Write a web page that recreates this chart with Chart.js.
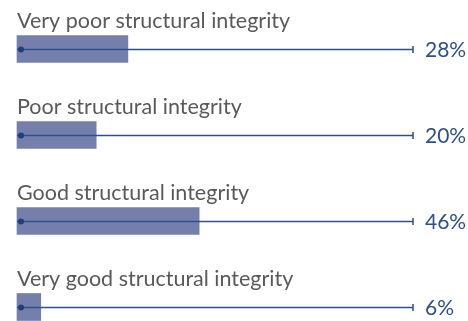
<!DOCTYPE html>
<html>
<head>
<meta charset="utf-8">
<script src="https://cdn.jsdelivr.net/npm/chart.js@4/dist/chart.umd.min.js"></script>
<style>
	html, body { margin: 0; padding: 0; background: #fff; }
	canvas { display: block; }
</style>
</head>
<body>
<canvas id="myChart" width="468" height="321"></canvas>
<script>
const categories = [
	"Very poor structural integrity",
	"Poor structural integrity",
	"Good structural integrity",
	"Very good structural integrity"
];
const shares = [28, 20, 46, 6];
const scaleMin = 0;
const scaleMax = 100;

const labelFont = '21.5px Lato, "DejaVu Sans", sans-serif';
const valueFont = '21px Lato, "DejaVu Sans", sans-serif';

// category label above each bar, track line with dot and end tick, value on the right
const rowDecor = {
	id: 'rowDecor',
	afterDatasetsDraw(chart) {
		const ctx = chart.ctx;
		const x = chart.scales.x;
		const meta = chart.getDatasetMeta(0);
		const x0 = x.getPixelForValue(scaleMin);
		const x1 = x.getPixelForValue(scaleMax);
		ctx.save();
		meta.data.forEach((bar, i) => {
			const top = bar.y - bar.height / 2;
			const ly = Math.round(bar.y) + 0.5;

			ctx.strokeStyle = '#2d4f8c';
			ctx.lineWidth = 1.5;
			ctx.beginPath();
			ctx.moveTo(x0, ly);
			ctx.lineTo(x1, ly);
			ctx.moveTo(x1, ly - 3.5);
			ctx.lineTo(x1, ly + 3.5);
			ctx.stroke();

			ctx.fillStyle = '#1f3f7a';
			ctx.beginPath();
			ctx.arc(x0 + 4, ly, 3, 0, Math.PI * 2);
			ctx.fill();

			ctx.fillStyle = '#595959';
			ctx.font = labelFont;
			ctx.textAlign = 'left';
			ctx.textBaseline = 'alphabetic';
			ctx.fillText(categories[i], x0, top - 8);

			ctx.fillStyle = '#2d4f8c';
			ctx.font = valueFont;
			ctx.textBaseline = 'middle';
			ctx.fillText(shares[i] + '%', x1 + 12, ly + 1);
		});
		ctx.restore();
	}
};

new Chart(document.getElementById('myChart'), {
	type: 'bar',
	data: {
		labels: categories,
		datasets: [{
			data: shares,
			backgroundColor: '#7480ab',
			borderWidth: 0,
			barThickness: 27,
			clip: false
		}]
	},
	options: {
		indexAxis: 'y',
		responsive: false,
		animation: false,
		layout: {
			padding: { left: 17, right: 55, top: 49, bottom: 14 }
		},
		plugins: {
			legend: { display: false },
			tooltip: { enabled: false }
		},
		scales: {
			x: { display: false, min: scaleMin, max: scaleMax },
			y: { display: false, offset: false }
		}
	},
	plugins: [rowDecor]
});
</script>
</body>
</html>
